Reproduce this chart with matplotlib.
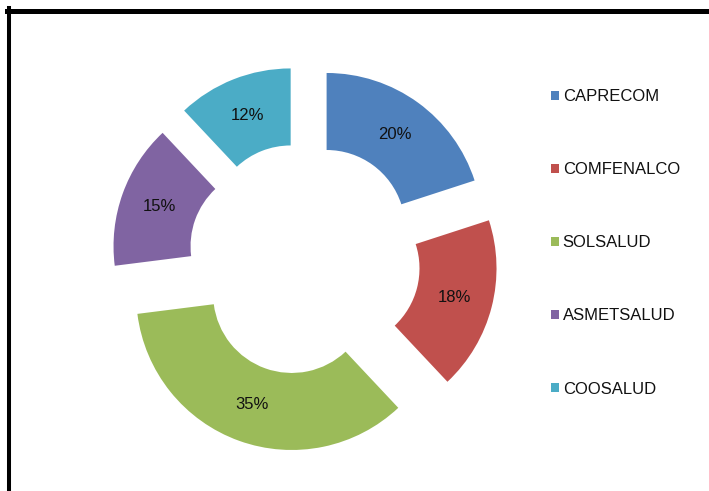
import matplotlib.pyplot as plt
from matplotlib.patches import Patch
from matplotlib.lines import Line2D

# Datos
entidades = ["CAPRECOM", "COMFENALCO", "SOLSALUD", "ASMETSALUD", "COOSALUD"]
porcentajes = [20, 18, 35, 15, 12]
colores = ["#4F81BD", "#C0504D", "#9BBB59", "#8064A2", "#4BACC6"]

plt.rcParams["font.family"] = ["Liberation Sans", "DejaVu Sans"]

fig = plt.figure(figsize=(7.09, 4.91), dpi=100)
ax = fig.add_axes([0, 0, 1, 1])

radio = 155.6
separacion = 37.6  # en pixeles (pie no escala explode por el radio)
wedges, textos, autotextos = ax.pie(
    porcentajes,
    colors=colores,
    startangle=90,
    counterclock=False,
    center=(304.5, 232),
    radius=radio,
    explode=[separacion] * len(porcentajes),
    wedgeprops=dict(width=radio * 0.495, linewidth=0),
    autopct="%1.0f%%",
    pctdistance=0.75,
    textprops=dict(fontsize=12, color="#111111"),
    frame=True,
)
ax.set_xlim(0, 709)
ax.set_ylim(0, 491)
ax.set_aspect("auto")
ax.axis("off")

# Leyenda
handles = [Patch(facecolor=c, edgecolor="none") for c in colores]
ax.legend(
    handles, entidades,
    loc="upper left",
    bbox_to_anchor=(551 / 709, 1 - 89 / 491),
    frameon=False,
    fontsize=12,
    labelcolor="#111111",
    handlelength=0.45,
    handleheight=0.45,
    handletextpad=0.25,
    labelspacing=3.49,
    borderpad=0,
    borderaxespad=0,
)

# Marco
fig.add_artist(Line2D([7 / 709, 1], [1 - 10.5 / 491, 1 - 10.5 / 491],
                      color="black", linewidth=3.6, transform=fig.transFigure))
fig.add_artist(Line2D([8.5 / 709, 8.5 / 709], [0, 1 - 8 / 491],
                      color="black", linewidth=2.9, transform=fig.transFigure))

fig.savefig("out.png", dpi=100)
